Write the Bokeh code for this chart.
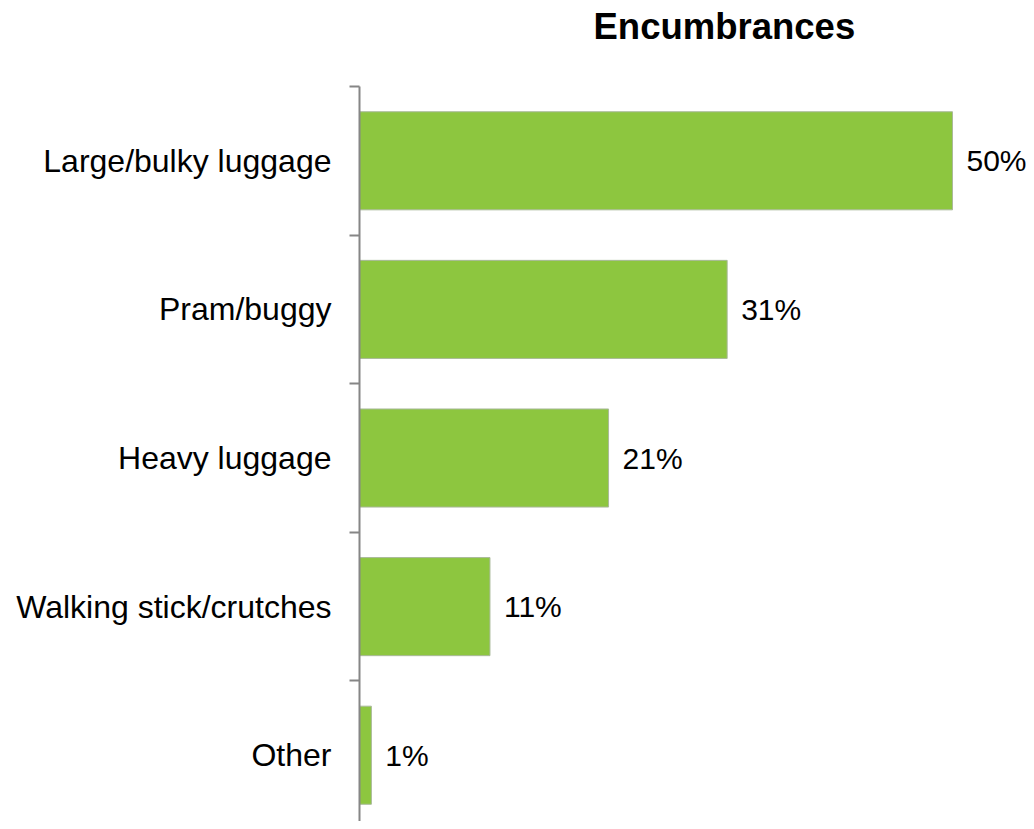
from bokeh.plotting import figure
from bokeh.models import Range1d, FixedTicker, Title, ColumnDataSource
from bokeh.core.properties import value
from bokeh.embed import file_html
from bokeh.resources import INLINE

# ---- data ----
categories = ["Large/bulky luggage", "Pram/buggy", "Heavy luggage",
              "Walking stick/crutches", "Other"]
percent = [50, 31, 21, 11, 1]
value_labels = ["50%", "31%", "21%", "11%", "1%"]
title_text = "Encumbrances"

FONT = "Liberation Sans"
BAR = "#8DC63F"
AXIS = "#868686"

n = len(categories)
centers = [n - i - 0.5 for i in range(n)]
bounds = [float(k) for k in range(1, n + 1)]

src = ColumnDataSource(dict(y=centers, v=percent, lab=value_labels))

p = figure(width=1026, height=821, output_backend="svg", toolbar_location=None,
           x_range=Range1d(0, 56.24), y_range=Range1d(0.054, n),
           x_axis_location=None, min_border_left=359, min_border_right=0,
           min_border_top=86, min_border_bottom=0, title=None)
p.outline_line_color = None
p.background_fill_color = "white"
p.border_fill_color = "white"
p.xgrid.grid_line_color = None
p.ygrid.grid_line_color = None

# spacer panel next to the frame, then the real title above it
spacer = Title(text=" ", text_font=FONT, text_font_size="20px", standoff=10)
p.add_layout(spacer, "above")
t = Title(text=title_text, align="left", offset=234, vertical_align="top",
          standoff=8, text_font=FONT, text_font_size="36.5px",
          text_font_style="bold", text_color="black")
p.add_layout(t, "above")

p.hbar(y="y", right="v", left=0, height=0.66, source=src, fill_color=BAR,
       line_color="#A9B99A", line_width=1)
p.text(x="v", y="y", text="lab", source=src, x_offset=14,
       text_baseline="middle", text_align="left", text_font=value(FONT),
       text_font_size="30px", text_color="black")

ax = p.yaxis[0]
ax.ticker = FixedTicker(ticks=centers, minor_ticks=bounds)
ax.major_label_overrides = {c: lab for c, lab in zip(centers, categories)}
ax.major_tick_line_color = None
ax.major_tick_out = 0
ax.major_tick_in = 0
ax.minor_tick_out = 10
ax.minor_tick_in = 0
ax.minor_tick_line_color = AXIS
ax.minor_tick_line_width = 2
ax.axis_line_color = AXIS
ax.axis_line_width = 2
ax.major_label_standoff = 18
ax.major_label_text_font = FONT
ax.major_label_text_font_size = "32px"
ax.major_label_text_color = "black"

open("out.html", "w").write(file_html(p, INLINE))
